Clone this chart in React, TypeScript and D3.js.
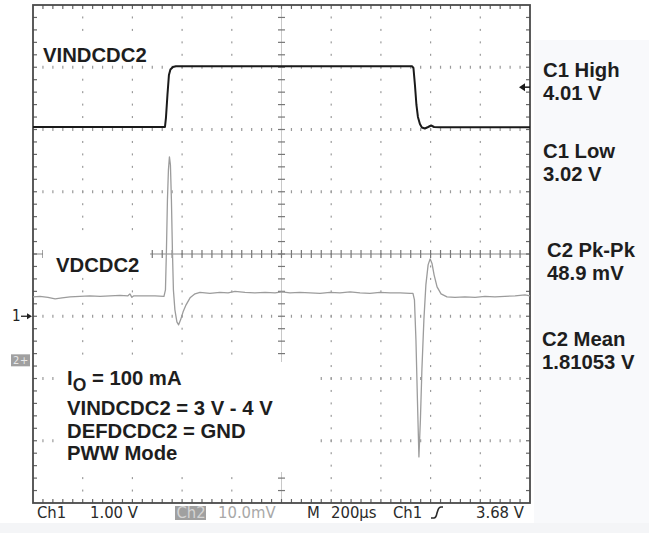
import React from "react";
import * as d3 from "d3";

// ---- Data read from the scope capture ----
// Time base: 200 us/div, 10 divisions (0..2000 us)
const ch1Time = [0, 531, 535, 541, 547, 553, 563, 575, 1074, 1525, 1531, 1537, 1543, 1549, 1557, 1565, 1577, 1590, 1602, 1614, 1638, 2000];
const ch1Volts = [3.04, 3.04, 3.185, 3.554, 3.875, 3.964, 4.004, 4.017, 4.017, 4.017, 3.988, 3.715, 3.394, 3.201, 3.088, 3.032, 3.016, 3.04, 3.064, 3.04, 3.035, 3.035];

const ch2Time = [0, 28, 60, 89, 117, 149, 189, 229, 270, 310, 350, 382, 390, 398, 406, 451, 491, 527, 533, 537, 541, 545, 549, 553, 557, 561, 565, 571, 579, 586, 594, 604, 616, 632, 652, 672, 712, 752, 785, 813, 853, 893, 934, 974, 1002, 1034, 1074, 1115, 1155, 1195, 1235, 1276, 1316, 1356, 1396, 1437, 1477, 1517, 1529, 1535, 1541, 1547, 1553, 1559, 1565, 1573, 1581, 1590, 1598, 1606, 1614, 1626, 1642, 1666, 1698, 1738, 1779, 1819, 1859, 1899, 1940, 1960, 1980, 2000];
const ch2MilliVolts = [10.12, 10.2, 10.04, 9.8, 9.96, 10.12, 10.2, 10.28, 10.2, 10.28, 10.36, 10.28, 10.6, 10.04, 10.28, 10.28, 10.28, 10.2, 11.24, 17.67, 25.7, 30.52, 32.61, 31.32, 25.7, 17.67, 11.24, 8.03, 6.1, 5.62, 6.42, 7.71, 8.83, 9.96, 10.6, 10.84, 10.68, 10.84, 10.76, 11.0, 10.84, 10.76, 10.84, 10.76, 10.92, 10.76, 10.84, 10.76, 10.68, 10.84, 10.76, 10.92, 10.76, 10.68, 10.84, 10.76, 10.76, 10.68, 10.68, 9.64, 3.21, -6.43, -15.59, -9.64, -1.61, 6.42, 12.04, 15.26, 16.22, 15.42, 13.65, 11.72, 10.6, 10.12, 10.04, 10.12, 10.04, 10.2, 10.12, 10.2, 10.28, 10.36, 10.44, 10.28];

const ch1VoltsPerDiv = 1.0;
const ch2MilliVoltsPerDiv = 10.0;
const ch1OffsetDiv = -1.0;
const ch2OffsetDiv = -1.7;
const triggerLevel = 3.68;

const measureLabels = [
  { title: "C1 High", value: "4.01 V" },
  { title: "C1 Low", value: "3.02 V" },
  { title: "C2 Pk-Pk", value: "48.9 mV" },
  { title: "C2 Mean", value: "1.81053 V" },
];
const conditionLines = ["VINDCDC2 = 3 V - 4 V", "DEFDCDC2 = GND", "PWW Mode"];

const W = 649;
const H = 533;
const L = 33, R = 530, T = 5, B = 503;
const hDivs = 10, vDivs = 8, minor = 5;

export default function App() {
  const x = d3.scaleLinear().domain([0, 2000]).range([L, R]);
  const yDiv = d3.scaleLinear().domain([-vDivs / 2, vDivs / 2]).range([B, T]);
  const xDiv = d3.scaleLinear().domain([0, hDivs]).range([L, R]);
  const y1 = (v: number) => yDiv(v / ch1VoltsPerDiv + ch1OffsetDiv);
  const y2 = (mv: number) => yDiv(mv / ch2MilliVoltsPerDiv + ch2OffsetDiv);

  const line1 = d3.line<number>().x((_, i) => x(ch1Time[i])).y((v) => y1(v));
  const line2 = d3.line<number>().x((_, i) => x(ch2Time[i])).y((v) => y2(v));

  const dots: JSX.Element[] = [];
  for (let i = 1; i < hDivs; i++) {
    if (i === hDivs / 2) continue;
    const gx = xDiv(i);
    for (let j = 1; j < vDivs * minor; j++) {
      dots.push(<rect key={`v${i}-${j}`} x={gx - 0.6} y={yDiv(-4 + j / minor) - 1} width={1.2} height={2} fill="#9a9a9a" />);
    }
  }
  for (let k = 1; k < vDivs; k++) {
    if (k === vDivs / 2) continue;
    const gy = yDiv(-4 + k);
    for (let j = 1; j < hDivs * minor; j++) {
      dots.push(<rect key={`h${k}-${j}`} x={xDiv(j / minor) - 0.6} y={gy - 1.5} width={1.2} height={3} fill="#9a9a9a" />);
    }
  }
  const cx = xDiv(hDivs / 2), cy = yDiv(0);
  const ticks: JSX.Element[] = [];
  for (let j = 1; j < hDivs * minor; j++) {
    const tx = xDiv(j / minor);
    ticks.push(<line key={`ch${j}`} x1={tx} x2={tx} y1={cy - 4} y2={cy + 4} stroke="#777" strokeWidth={1.2} />);
    ticks.push(<line key={`tt${j}`} x1={tx} x2={tx} y1={T} y2={T + 4} stroke="#666" strokeWidth={1.2} />);
    ticks.push(<line key={`tb${j}`} x1={tx} x2={tx} y1={B} y2={B - 4} stroke="#666" strokeWidth={1.2} />);
  }
  for (let j = 1; j < vDivs * minor; j++) {
    const ty = yDiv(-4 + j / minor);
    ticks.push(<line key={`cv${j}`} x1={cx - 3.5} x2={cx + 3.5} y1={ty} y2={ty} stroke="#777" strokeWidth={1.2} />);
    ticks.push(<line key={`tl${j}`} x1={L} x2={L + 4} y1={ty} y2={ty} stroke="#666" strokeWidth={1.2} />);
    ticks.push(<line key={`tr${j}`} x1={R} x2={R - 4} y1={ty} y2={ty} stroke="#666" strokeWidth={1.2} />);
  }

  const bold = { fontFamily: "'Liberation Sans', Arial, sans-serif", fontWeight: 700, fontSize: 20.3, fill: "#1e1e1e" } as const;
  const scopeFont = { fontFamily: "'DejaVu Sans Condensed', 'DejaVu Sans', sans-serif", fontSize: 16.5 } as const;
  const trigY = y1(triggerLevel);
  const measureY = [77, 158, 257, 346];
  const measureX = [543, 543, 547, 542];

  return (
    <svg width={W} height={H} style={{ position: "absolute", left: 0, top: 0, background: "#fff" }}>
      <rect x={0} y={0} width={W} height={H} fill="#fff" />
      <rect x={534} y={40} width={W - 534} height={H - 40} fill="#f8f9fb" />
      <rect x={0} y={523} width={W} height={H - 523} fill="#f4f5f7" />

      {dots}
      <line x1={L} x2={R} y1={cy} y2={cy} stroke="#8a8a8a" strokeWidth={1} />
      <line x1={cx} x2={cx} y1={T} y2={B} stroke="#c8c8c8" strokeWidth={1} />
      {ticks}
      <rect x={L} y={T} width={R - L} height={B - T} fill="none" stroke="#4a4a4a" strokeWidth={1.8} />

      {/* label backgrounds */}
      <rect x={41} y={40} width={110} height={25} fill="#fff" />
      <rect x={43} y={240} width={107} height={34} fill="#fff" />
      <rect x={58} y={362} width={260} height={110} fill="#fff" />

      {/* traces */}
      <path d={line2(ch2MilliVolts) || ""} fill="none" stroke="#9c9c9c" strokeWidth={1.3} strokeLinejoin="round" />
      <path d={line1(ch1Volts) || ""} fill="none" stroke="#1a1a1a" strokeWidth={2} strokeLinejoin="round" />

      {/* trigger level marker */}
      <path d={`M${R - 11},${trigY} L${R - 5},${trigY - 4} L${R - 5},${trigY + 4} Z`} fill="#1a1a1a" />
      <line x1={R - 6} x2={R} y1={trigY} y2={trigY} stroke="#1a1a1a" strokeWidth={1.5} />

      {/* channel markers */}
      <text x={12} y={321} style={{ ...scopeFont, fontSize: 15 }} fill="#222">1</text>
      <line x1={21} x2={30} y1={y1(0)} y2={y1(0)} stroke="#222" strokeWidth={1.3} />
      <path d={`M${32},${y1(0)} L${27},${y1(0) - 3} L${27},${y1(0) + 3} Z`} fill="#222" />
      <rect x={11} y={y2(0) - 5.5} width={19} height={12} fill="#a0a0a0" />
      <text x={13} y={y2(0) + 4.5} style={{ ...scopeFont, fontSize: 11 }} fill="#e8e8e8">2</text>
      <text x={20} y={y2(0) + 4.5} style={{ ...scopeFont, fontSize: 11 }} fill="#e8e8e8">+</text>

      {/* signal labels */}
      <text x={43} y={62} style={bold}>VINDCDC2</text>
      <text x={56} y={272} style={bold}>VDCDC2</text>

      {measureLabels.map((m, i) => (
        <g key={m.title}>
          <text x={measureX[i]} y={measureY[i]} style={bold}>{m.title}</text>
          <text x={measureX[i]} y={measureY[i] + 23} style={bold}>{m.value}</text>
        </g>
      ))}

      <text x={67} y={385} style={bold}>
        I<tspan dy={6} style={{ fontSize: 17.5 }}>O</tspan><tspan dy={-6}> = 100 mA</tspan>
      </text>
      {conditionLines.map((t, i) => (
        <text key={t} x={67} y={415 + i * 22.5} style={bold}>{t}</text>
      ))}

      {/* status bar */}
      <text x={37} y={518} style={scopeFont} fill="#2a2a2a">Ch1</text>
      <text x={90} y={518} style={scopeFont} fill="#2a2a2a">1.00 V</text>
      <rect x={175} y={506} width={31} height={14} fill="#a0a0a0" />
      <text x={176.5} y={518} style={scopeFont} fill="#d4d4d4">Ch2</text>
      <text x={218} y={518} style={scopeFont} fill="#a8a8a8">10.0mV</text>
      <text x={307} y={518} style={scopeFont} fill="#2a2a2a">M</text>
      <text x={331} y={518} style={scopeFont} fill="#2a2a2a">200µs</text>
      <text x={393} y={518} style={scopeFont} fill="#2a2a2a">Ch1</text>
      <path d="M431,518 L434,518 Q436,518 437,513 L438,510 Q439,507 441,507 L443,507" fill="none" stroke="#2a2a2a" strokeWidth={1.6} />
      <text x={476} y={518} style={scopeFont} fill="#2a2a2a">3.68 V</text>
    </svg>
  );
}
